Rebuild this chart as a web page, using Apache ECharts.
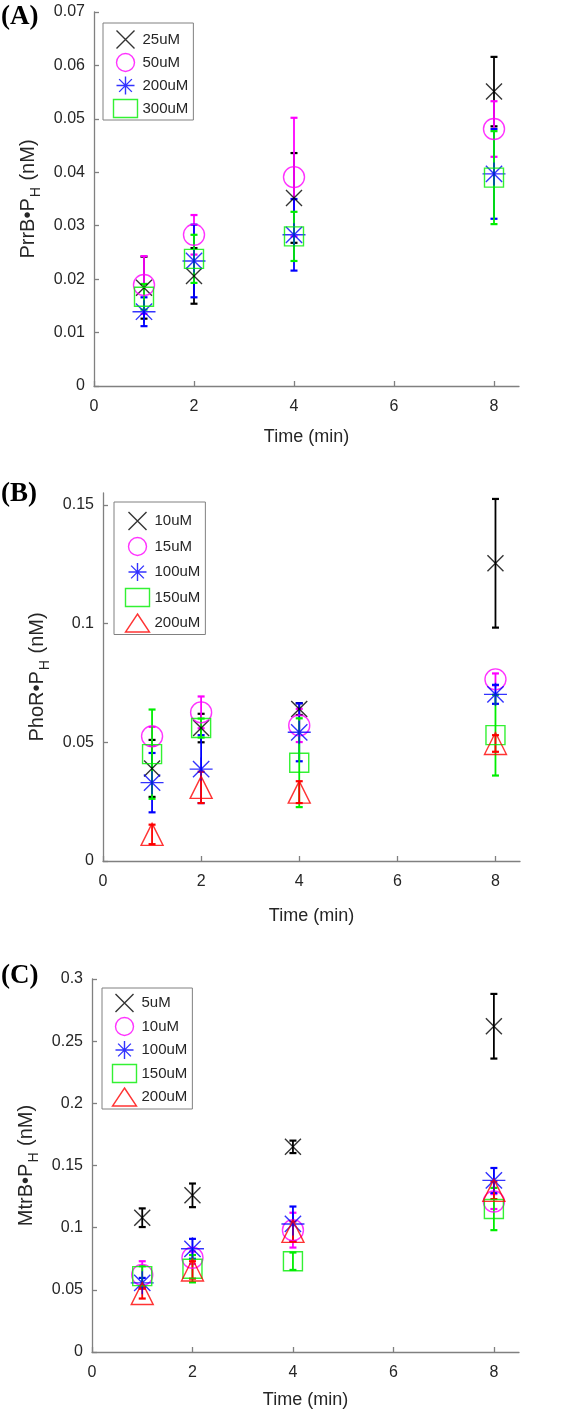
<!DOCTYPE html>
<html>
<head>
<meta charset="utf-8">
<script src="https://cdn.jsdelivr.net/npm/echarts@6/dist/echarts.min.js"></script>
<style>
html,body{margin:0;padding:0;background:#fff;}
#chart{width:566px;height:1412px;}
</style>
</head>
<body>
<div id="chart"></div>
<script>
// ---------- DATA ----------
const timeMin = [1, 2, 4, 8];
const xTicks = [0, 2, 4, 6, 8];
const yTicksA = [0, 0.01, 0.02, 0.03, 0.04, 0.05, 0.06, 0.07];
const yTicksB = [0, 0.05, 0.1, 0.15];
const yTicksC = [0, 0.05, 0.1, 0.15, 0.2, 0.25, 0.3];

// Panel A: PrrB•P_H
const labelsA = ['25uM', '50uM', '200uM', '300uM'];
const prrB_25uM = [0.0184, 0.0206, 0.0352, 0.0551];
const prrB_25uM_err = [0.0058, 0.0052, 0.0084, 0.0065];
const prrB_50uM = [0.0189, 0.0283, 0.0391, 0.0481];
const prrB_50uM_err = [0.0054, 0.0037, 0.0111, 0.0052];
const prrB_200uM = [0.0139, 0.0234, 0.0283, 0.0397];
const prrB_200uM_err = [0.0027, 0.0068, 0.0067, 0.0084];
const prrB_300uM = [0.0167, 0.0238, 0.0280, 0.0390];
const prrB_300uM_err = [0.0024, 0.0045, 0.0046, 0.0087];

// Panel B: PhoR•P_H
const labelsB = ['10uM', '15uM', '100uM', '150uM', '200uM'];
const phoR_10uM = [0.039, 0.056, 0.064, 0.1254];
const phoR_10uM_err = [0.012, 0.006, 0.0025, 0.0271];
const phoR_15uM = [0.0525, 0.0626, 0.0571, 0.0765];
const phoR_15uM_err = [0.004, 0.0067, 0.007, 0.0025];
const phoR_100uM = [0.033, 0.0387, 0.0542, 0.0702];
const phoR_100uM_err = [0.0125, 0.0143, 0.0122, 0.004];
const phoR_150uM = [0.045, 0.056, 0.0414, 0.053];
const phoR_150uM_err = [0.0188, 0.004, 0.0187, 0.017];
const phoR_200uM = [0.0112, 0.031, 0.029, 0.0495];
const phoR_200uM_err = [0.0041, 0.0066, 0.0046, 0.0035];

// Panel C: MtrB•P_H
const labelsC = ['5uM', '10uM', '100uM', '150uM', '200uM'];
const mtrB_5uM = [0.108, 0.126, 0.165, 0.262];
const mtrB_5uM_err = [0.0075, 0.0095, 0.005, 0.026];
const mtrB_10uM = [0.062, 0.0758, 0.098, 0.121];
const mtrB_10uM_err = [0.011, 0.005, 0.014, 0.006];
const mtrB_100uM = [0.0556, 0.083, 0.103, 0.138];
const mtrB_100uM_err = [0.004, 0.008, 0.014, 0.010];
const mtrB_150uM = [0.061, 0.067, 0.073, 0.115];
const mtrB_150uM_err = [0.008, 0.011, 0.007, 0.017];
const mtrB_200uM = [0.047, 0.066, 0.097, 0.130];
const mtrB_200uM_err = [0.004, 0.007, 0.008, 0.007];

// ---------- STYLE ----------
const SYM_X = 'path://M0,0L10,10M10,0L0,10';
const SYM_STAR = 'path://M5,0L5,10M0,5L10,5M1.46,1.46L8.54,8.54M8.54,1.46L1.46,8.54';
const markers = {
  x: {symbol: SYM_X, size: 16, color: '#000000'},
  o: {symbol: 'circle', size: 21, color: '#ff00ff'},
  star: {symbol: SYM_STAR, size: 23, color: '#0000ff'},
  sq: {symbol: 'rect', size: 19, color: '#00ee00'},
  tri: {symbol: 'triangle', size: 22, color: '#ff0000'}
};
const FONT = 'Liberation Sans, Arial, sans-serif';
const SERIF = 'Liberation Serif, Times New Roman, serif';
const AX = '#808080';
const TXT = '#262626';

const panels = [
  {key: 'A', labels: labelsA, kinds: ['x', 'o', 'star', 'sq'],
   means: [prrB_25uM, prrB_50uM, prrB_200uM, prrB_300uM],
   errs: [prrB_25uM_err, prrB_50uM_err, prrB_200uM_err, prrB_300uM_err],
   grid: {left: 94, top: 12, width: 425, height: 374}, ymax: 0.07, yTicks: yTicksA,
   yname: 'PrrB•P', yGap: 43, xGap: 42,
   legend: {left: 103, top: 23, padding: [5, 5, 0, 8], itemGap: 0}},
  {key: 'B', labels: labelsB, kinds: ['x', 'o', 'star', 'sq', 'tri'],
   means: [phoR_10uM, phoR_15uM, phoR_100uM, phoR_150uM, phoR_200uM],
   errs: [phoR_10uM_err, phoR_15uM_err, phoR_100uM_err, phoR_150uM_err, phoR_200uM_err],
   grid: {left: 103, top: 493, width: 417, height: 368}, ymax: 0.155, yTicks: yTicksB,
   yname: 'PhoR•P', yGap: 50, xGap: 46,
   legend: {left: 114, top: 502, padding: [7.5, 5, 0, 9], itemGap: 2.5}},
  {key: 'C', labels: labelsC, kinds: ['x', 'o', 'star', 'sq', 'tri'],
   means: [mtrB_5uM, mtrB_10uM, mtrB_100uM, mtrB_150uM, mtrB_200uM],
   errs: [mtrB_5uM_err, mtrB_10uM_err, mtrB_100uM_err, mtrB_150uM_err, mtrB_200uM_err],
   grid: {left: 92, top: 979, width: 427, height: 373}, ymax: 0.3, yTicks: yTicksC,
   yname: 'MtrB•P', yGap: 41, xGap: 39,
   legend: {left: 102, top: 988, padding: [3.5, 5, 0.5, 8], itemGap: 0.5}}
];

function errRenderer(color) {
  return function (params, api) {
    const x = api.value(0), lo = api.value(1), hi = api.value(2);
    const pLo = api.coord([x, lo]);
    const pHi = api.coord([x, hi]);
    const w = 3.5;
    const st = {stroke: color, lineWidth: 1.8};
    return {type: 'group', children: [
      {type: 'line', shape: {x1: pLo[0], y1: pLo[1], x2: pHi[0], y2: pHi[1]}, style: st},
      {type: 'line', shape: {x1: pLo[0] - w, y1: pLo[1], x2: pLo[0] + w, y2: pLo[1]}, style: {stroke: color, lineWidth: 2.2}},
      {type: 'line', shape: {x1: pHi[0] - w, y1: pHi[1], x2: pHi[0] + w, y2: pHi[1]}, style: {stroke: color, lineWidth: 2.2}}
    ]};
  };
}

const grids = [], xAxes = [], yAxes = [], series = [], legends = [];
panels.forEach((p, gi) => {
  grids.push(p.grid);
  xAxes.push({
    type: 'value', gridIndex: gi, min: 0, max: 8.5,
    name: 'Time (min)', nameLocation: 'middle', nameGap: p.xGap,
    nameTextStyle: {fontFamily: FONT, fontSize: 18, color: TXT},
    axisLine: {show: true, onZero: false, lineStyle: {color: AX, width: 1.3}},
    axisTick: {show: true, inside: true, length: 5, customValues: xTicks, lineStyle: {color: AX, width: 1.3}},
    axisLabel: {customValues: xTicks, fontFamily: FONT, fontSize: 16, color: TXT, margin: 13},
    splitLine: {show: false}
  });
  yAxes.push({
    type: 'value', gridIndex: gi, min: 0, max: p.ymax,
    name: '{a|' + p.yname + '}{s|H}{a| (nM)}', nameLocation: 'middle', nameGap: p.yGap,
    nameRotate: 90,
    nameTextStyle: {
      fontFamily: FONT, fontSize: 20, color: TXT,
      rich: {
        a: {fontFamily: FONT, fontSize: 20, color: TXT, lineHeight: 22},
        s: {fontFamily: FONT, fontSize: 14, color: TXT, lineHeight: 14, padding: [14, 1, 0, 1]}
      }
    },
    axisLine: {show: true, onZero: false, lineStyle: {color: AX, width: 1.3}},
    axisTick: {show: true, inside: true, length: 5, customValues: p.yTicks, lineStyle: {color: AX, width: 1.3}},
    axisLabel: {customValues: p.yTicks, fontFamily: FONT, fontSize: 16, color: TXT, margin: 9},
    splitLine: {show: false}
  });
  const legendNames = [];
  p.labels.forEach((lab, si) => {
    const mk = markers[p.kinds[si]];
    const mean = p.means[si], err = p.errs[si];
    series.push({
      type: 'custom', name: p.key + 'err' + lab, xAxisIndex: gi, yAxisIndex: gi,
      renderItem: errRenderer(mk.color),
      encode: {x: 0, y: [1, 2]},
      data: timeMin.map((t, i) => [t, mean[i] - err[i], mean[i] + err[i]]),
      silent: true, animation: false
    });
    const nm = p.key + '|' + lab;
    legendNames.push(nm);
    series.push({
      type: 'scatter', name: nm, xAxisIndex: gi, yAxisIndex: gi,
      symbol: mk.symbol, symbolSize: mk.size,
      itemStyle: {color: 'none', borderColor: mk.color, borderWidth: 1.4},
      data: timeMin.map((t, i) => [t, mean[i]]),
      animation: false
    });
  });
  legends.push(Object.assign({
    orient: 'vertical', data: legendNames,
    formatter: (n) => n.split('|')[1],
    itemWidth: 24, itemHeight: 18,
    borderColor: AX, borderWidth: 1, borderRadius: 0, backgroundColor: '#ffffff',
    selectedMode: false,
    textStyle: {fontFamily: FONT, fontSize: 15, color: TXT, lineHeight: 18},
    itemStyle: {borderWidth: 1.4, color: 'none'}
  }, p.legend));
});

const chart = echarts.init(document.getElementById('chart'), null, {renderer: 'canvas'});
chart.setOption({
  backgroundColor: '#ffffff',
  animation: false,
  grid: grids, xAxis: xAxes, yAxis: yAxes, series: series, legend: legends,
  graphic: [
    {type: 'text', left: 1, top: 4, style: {text: '(A)', fontFamily: SERIF, fontWeight: 'bold', fontSize: 27, fill: '#000'}},
    {type: 'text', left: 1, top: 481, style: {text: '(B)', fontFamily: SERIF, fontWeight: 'bold', fontSize: 27, fill: '#000'}},
    {type: 'text', left: 1, top: 963, style: {text: '(C)', fontFamily: SERIF, fontWeight: 'bold', fontSize: 27, fill: '#000'}}
  ]
});
</script>
</body>
</html>
